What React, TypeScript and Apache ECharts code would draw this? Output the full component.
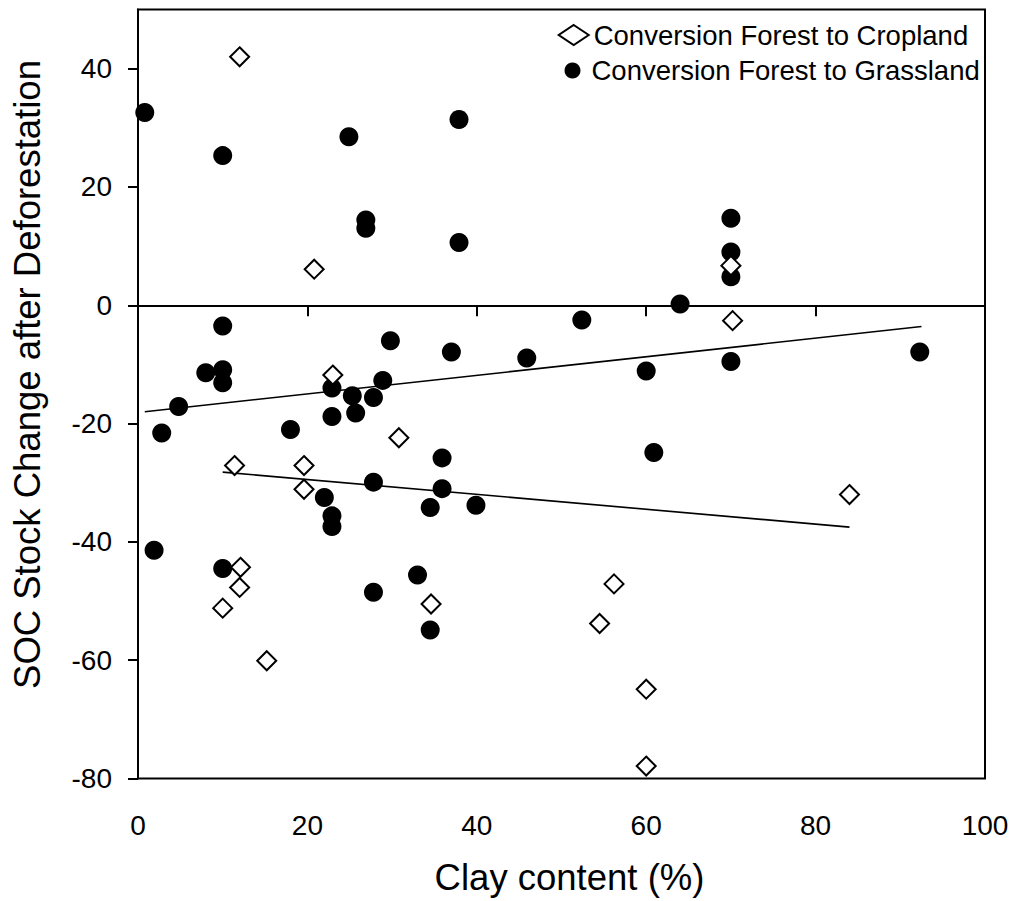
import React, { useEffect, useRef } from "react";
import * as echarts from "echarts";

const cropName = "Conversion Forest to Cropland";
const grassName = "Conversion Forest to Grassland";

const cropClay = [12, 20.8, 70, 70.2, 23, 30.8, 11.4, 19.6, 19.6, 84, 12.1, 12.0, 10.0, 34.6, 15.2, 56.2, 54.5, 60, 60];
const cropSOC = [42.0, 6.1, 6.7, -2.6, -11.8, -22.4, -27.1, -27.1, -31.1, -32.0, -44.3, -47.7, -51.2, -50.5, -60.1, -47.1, -53.8, -64.9, -77.9];

const grassClay = [0.8, 10, 24.9, 37.9, 26.9, 26.9, 37.9, 70, 70, 70, 64, 10, 8, 10, 10, 4.8, 2.8, 22.9, 25.3, 27.8, 28.9, 29.8, 37.0, 45.9, 52.4, 22.9, 25.7, 18.0, 35.9, 27.8, 35.9, 22.0, 34.5, 39.9, 22.9, 22.9, 1.9, 10.0, 33.0, 27.8, 34.5, 60.0, 70.0, 92.3, 60.9];
const grassSOC = [32.6, 25.3, 28.5, 31.4, 14.4, 13.0, 10.6, 14.7, 9.0, 4.8, 0.2, -3.5, -11.4, -10.9, -13.1, -17.1, -21.6, -14.0, -15.3, -15.6, -12.7, -6.0, -7.9, -8.9, -2.5, -18.8, -18.2, -21.0, -25.8, -29.9, -31.0, -32.5, -34.2, -33.8, -35.6, -37.4, -41.4, -44.5, -45.6, -48.5, -54.9, -11.1, -9.5, -7.9, -24.9];

// regression line end points
const grassTrendX = [0.8, 92.5];
const grassTrendY = [-18.0, -3.6];
const cropTrendX = [10, 84];
const cropTrendY = [-28.2, -37.5];

const xTicks = [0, 20, 40, 60, 80, 100];
const yTicks = [-80, -60, -40, -20, 0, 20, 40];

const FONT = "Liberation Sans, Arial, sans-serif";

export default function App() {
  const ref = useRef<HTMLDivElement>(null);
  useEffect(() => {
    if (!ref.current) return;
    const chart = echarts.init(ref.current, null, { renderer: "svg" });
    const zip = (xs: number[], ys: number[]) => xs.map((x, i) => [x, ys[i]]);
    chart.setOption({
      animation: false,
      backgroundColor: "#fff",
      textStyle: { fontFamily: FONT, color: "#000" },
      grid: {
        left: 138,
        top: 9.5,
        width: 847,
        height: 769,
        show: true,
        borderColor: "#000",
        borderWidth: 2,
        backgroundColor: "transparent",
      },
      legend: [
        {
          data: [cropName],
          orient: "vertical",
          left: 557.7,
          top: 21,
          padding: 0,
          itemWidth: 30,
          itemHeight: 20,
          textStyle: { fontSize: 27.5, color: "#000", fontFamily: FONT },
          selectedMode: false,
        },
        {
          data: [grassName],
          orient: "vertical",
          left: 564.5,
          top: 56.5,
          padding: 0,
          itemWidth: 28,
          itemHeight: 16,
          textStyle: { fontSize: 27.5, color: "#000", fontFamily: FONT },
          selectedMode: false,
        },
      ],
      xAxis: {
        type: "value",
        min: 0,
        max: 100,
        interval: 20,
        name: "Clay content (%)",
        nameLocation: "middle",
        nameGap: 80,
        nameTextStyle: { fontSize: 36.5, color: "#000", fontFamily: FONT, padding: [0, 0, 0, 16] },
        axisLine: { show: true, lineStyle: { color: "#000", width: 2 } },
        axisTick: { show: true, length: 11, lineStyle: { color: "#000", width: 2 }, customValues: xTicks },
        axisLabel: { fontSize: 28, color: "#000", margin: 33, fontFamily: FONT, customValues: xTicks },
        splitLine: { show: false },
      },
      yAxis: {
        type: "value",
        min: -80,
        max: 50,
        name: "SOC Stock Change after Deforestation",
        nameLocation: "middle",
        nameGap: 92,
        nameTextStyle: { fontSize: 36.5, color: "#000", fontFamily: FONT, padding: [0, 0, 0, 39] },
        axisLine: { show: true, onZero: false, lineStyle: { color: "#000", width: 2 } },
        axisTick: { show: true, length: 10, lineStyle: { color: "#000", width: 2 }, customValues: yTicks },
        axisLabel: { fontSize: 28, color: "#000", margin: 26, fontFamily: FONT, customValues: yTicks },
        splitLine: { show: false },
      },
      series: [
        {
          name: grassName + " trend",
          type: "line",
          data: zip(grassTrendX, grassTrendY),
          symbol: "none",
          lineStyle: { color: "#000", width: 1.6 },
          silent: true,
          z: 1,
        },
        {
          name: cropName + " trend",
          type: "line",
          data: zip(cropTrendX, cropTrendY),
          symbol: "none",
          lineStyle: { color: "#000", width: 1.6 },
          silent: true,
          z: 1,
        },
        {
          name: grassName,
          type: "scatter",
          data: zip(grassClay, grassSOC),
          symbol: "circle",
          symbolSize: 19,
          itemStyle: { color: "#000", opacity: 1 },
          z: 3,
          markLine: {
            silent: true,
            symbol: "none",
            label: { show: false },
            lineStyle: { color: "#000", width: 2, type: "solid" },
            data: [{ yAxis: 0 }],
          },
        },
        {
          name: cropName,
          type: "scatter",
          data: zip(cropClay, cropSOC),
          symbol: "diamond",
          symbolSize: 19,
          itemStyle: { color: "#fff", borderColor: "#000", borderWidth: 2, opacity: 1 },
          z: 4,
        },
      ],
    });
    return () => chart.dispose();
  }, []);
  return (
    <div
      ref={ref}
      style={{ position: "fixed", left: 0, top: 0, width: 1016, height: 901 }}
    />
  );
}
